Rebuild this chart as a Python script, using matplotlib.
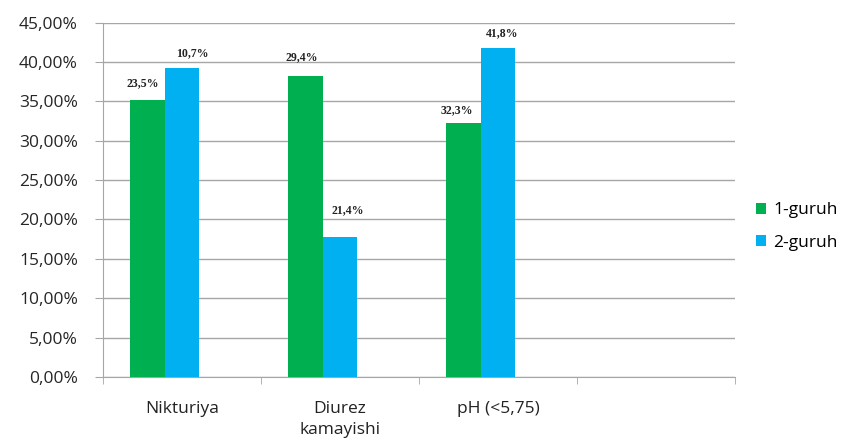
import matplotlib.pyplot as plt
import numpy as np

categories = ['Nikturiya', 'Diurez\nkamayishi', 'pH (<5,75)', '']
group1 = [35.2, 38.2, 32.2]
group2 = [39.2, 17.8, 41.75]
labels1 = ['23,5%', '29,4%', '32,3%']
labels2 = ['10,7%', '21,4%', '41,8%']
series_names = ['1-guruh', '2-guruh']
yticks = np.arange(0, 46, 5)

green = '#00B050'
blue = '#00B0F0'
grid_col = '#A6A6A6'

plt.rcParams['font.family'] = ['Open Sans', 'DejaVu Sans']

fig = plt.figure(figsize=(8.54, 4.43), dpi=100)
ax = fig.add_axes([0.1206, 0.149, 0.7401, 0.8000])

x = np.arange(len(group1))
w = 0.22
b1 = ax.bar(x - w, group1, width=w, color=green, label=series_names[0], zorder=3)
b2 = ax.bar(x, group2, width=w, color=blue, label=series_names[1], zorder=3)

# data labels, nudged a little like the hand-placed ones
off1 = [(-4, 17), (-3, 19), (-6, 13)]
off2 = [(10, 15), (8, 27), (4, 15)]
for bars, labs, offs in [(b1, labels1, off1), (b2, labels2, off2)]:
    for r, lab, (dx, dy) in zip(bars, labs, offs):
        ax.annotate(lab, (r.get_x() + r.get_width() / 2, r.get_height()),
                    xytext=(dx, dy), textcoords='offset pixels',
                    ha='center', va='center', fontsize=8.5,
                    family='Liberation Serif', weight='bold', color='#222222')

ax.set_xlim(-0.5, 3.5)
ax.set_ylim(0, 45)
ax.set_yticks(yticks)
ax.set_yticklabels(['%d,00%%' % v for v in yticks], fontsize=12.5, color='#262626')
ax.yaxis.grid(True, color=grid_col, lw=1, zorder=0)

ax.set_xticks(np.arange(4))
ax.set_xticklabels(categories, fontsize=12.5, color='#222222', va='top',
                   linespacing=1.45)
ax.set_xticks(np.arange(-0.5, 4, 1), minor=True)
ax.tick_params(axis='x', which='major', length=0, pad=17)
ax.tick_params(axis='x', which='minor', length=5, color=grid_col, direction='out')
ax.tick_params(axis='y', length=6, color=grid_col, pad=12)

for s in ['top', 'right']:
    ax.spines[s].set_visible(False)
ax.spines['left'].set_color(grid_col)
ax.spines['bottom'].set_color(grid_col)

ax.legend(loc='center left', bbox_to_anchor=(1.008, 0.424), frameon=False,
          fontsize=12.5, handlelength=0.6, handleheight=0.6, handletextpad=0.4,
          labelspacing=0.95)

plt.savefig('out.png', dpi=100)
